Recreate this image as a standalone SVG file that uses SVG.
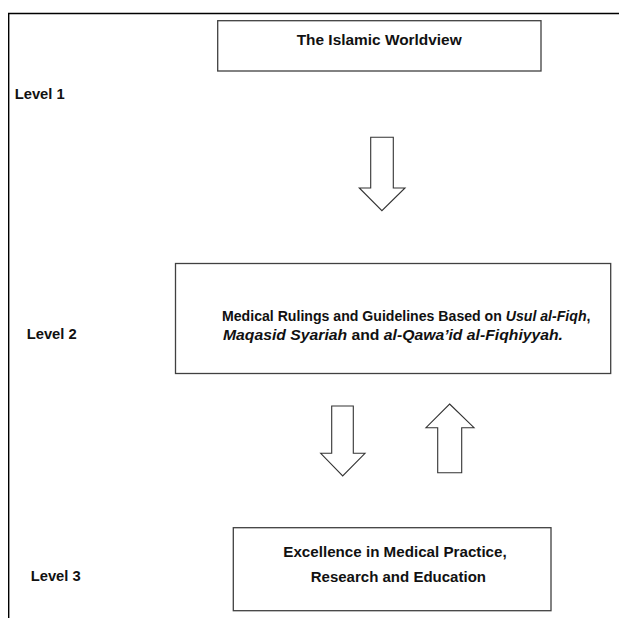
<svg xmlns="http://www.w3.org/2000/svg" width="619" height="618" viewBox="0 0 619 618">
<style>
.bg{fill:#ffffff}
.frame{fill:none;stroke:#000000;stroke-width:1.4}
.box{fill:#ffffff;stroke:#404040;stroke-width:1.3}
.arrow{fill:#ffffff;stroke:#333333;stroke-width:1.1;stroke-linejoin:miter}
.t{font-family:"Liberation Sans",Arial,sans-serif;font-weight:bold;font-size:15.5px;fill:#111111}
.i{font-style:italic}
</style>
<rect class="bg" x="0" y="0" width="619" height="618"/>
<g id="frame">
<polyline class="frame" points="619,13.5 8.7,13.5 8.7,618"/>
</g>
<g id="labels">
<text class="t" x="14.7" y="99" textLength="50" lengthAdjust="spacingAndGlyphs">Level 1</text>
<text class="t" x="26.7" y="339.3" textLength="50" lengthAdjust="spacingAndGlyphs">Level 2</text>
<text class="t" x="30.7" y="580.7" textLength="50" lengthAdjust="spacingAndGlyphs">Level 3</text>
</g>
<g id="node-worldview">
<rect class="box" x="217.7" y="20.7" width="323.3" height="50.3"/>
<text class="t" x="296.7" y="45" textLength="165" lengthAdjust="spacingAndGlyphs">The Islamic Worldview</text>
</g>
<g id="node-rulings">
<rect class="box" x="175.5" y="263.5" width="435.2" height="110"/>
<text class="t" transform="translate(222,321) scale(0.911,1)" x="0" y="0">Medical Rulings and Guidelines Based on <tspan class="i">Usul al-Fiqh</tspan>,</text>
<text class="t" transform="translate(223,339.5) scale(1.015,1)" x="0" y="0"><tspan class="i">Maqasid Syariah</tspan> and <tspan class="i">al-Qawa’id al-Fiqhiyyah.</tspan></text>
</g>
<g id="node-excellence">
<rect class="box" x="233.3" y="527.7" width="317.7" height="83"/>
<text class="t" x="283.3" y="557.2" textLength="223.4" lengthAdjust="spacingAndGlyphs">Excellence in Medical Practice,</text>
<text class="t" x="310.7" y="581.5" textLength="175.3" lengthAdjust="spacingAndGlyphs">Research and Education</text>
</g>
<g id="connectors">
<polygon class="arrow" points="370.7,137.3 393.3,137.3 393.3,188 405,188 381.9,210.7 359.3,188 370.7,188"/>
<polygon class="arrow" points="331.7,406 353.3,406 353.3,453.3 365,453.3 342.7,476 320.7,453.3 331.7,453.3"/>
<polygon class="arrow" points="449.6,404 474,427.7 461.7,427.7 461.7,472.7 437.7,472.7 437.7,427.7 426,427.7"/>
</g>
</svg>
